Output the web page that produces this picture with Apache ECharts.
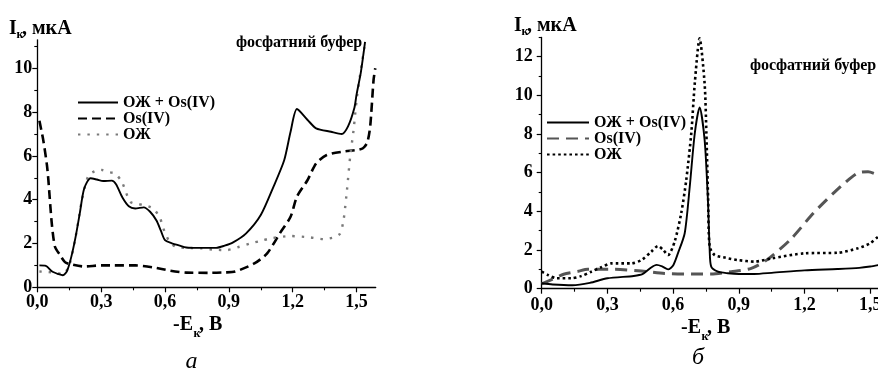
<!DOCTYPE html>
<html>
<head>
<meta charset="utf-8">
<script src="https://cdn.jsdelivr.net/npm/echarts@6/dist/echarts.min.js"></script>
<style>
html,body{margin:0;padding:0;background:#fff;overflow:hidden;width:878px;height:370px;}
#c{width:900px;height:370px;}
</style>
</head>
<body>
<div id="c"></div>
<script>
// ---------- data (panel а) ----------
const seriesNames = ['ОЖ + Os(IV)', 'Os(IV)', 'ОЖ'];
const xTicks = [0, 0.3, 0.6, 0.9, 1.2, 1.5];
const xMinorTicks = [0.15, 0.45, 0.75, 1.05, 1.35];
const yTicksA = [0, 2, 4, 6, 8, 10];
const yMinorA = [1, 3, 5, 7, 9, 11];
const yTicksB = [0, 2, 4, 6, 8, 10, 12];
const yMinorB = [1, 3, 5, 7, 9, 11, 13];

const aSolidE = [0.01,0.04,0.07,0.10,0.12,0.14,0.16,0.18,0.20,0.22,0.25,0.28,0.31,0.35,0.37,0.40,0.43,0.46,0.50,0.53,0.56,0.58,0.60,0.63,0.67,0.70,0.75,0.80,0.84,0.88,0.92,0.98,1.05,1.11,1.16,1.19,1.22,1.27,1.31,1.38,1.43,1.46,1.49,1.50,1.52,1.54];
const aSolidI = [1.0,0.98,0.72,0.6,0.55,0.75,1.4,2.3,3.4,4.5,4.98,4.92,4.85,4.87,4.7,4.1,3.7,3.6,3.65,3.45,3.05,2.6,2.15,2.02,1.9,1.82,1.8,1.8,1.8,1.9,2.05,2.45,3.3,4.6,5.8,7.1,8.14,7.64,7.26,7.1,7.0,7.35,8.2,8.8,9.8,11.2];

const aDashE = [0.01,0.028,0.045,0.052,0.068,0.083,0.105,0.13,0.154,0.22,0.30,0.36,0.46,0.545,0.624,0.70,0.81,0.88,0.93,1.02,1.08,1.14,1.19,1.22,1.27,1.31,1.36,1.44,1.50,1.53,1.55,1.564,1.58,1.588];
const aDashI = [7.6,6.72,5.6,4.9,2.92,1.85,1.5,1.15,1.06,0.95,1.0,1.0,1.0,0.91,0.76,0.67,0.66,0.68,0.72,1.09,1.55,2.47,3.22,4.14,4.9,5.66,6.04,6.2,6.27,6.35,6.6,7.33,9.47,10.0];

const aDotE = [0.01,0.05,0.09,0.12,0.15,0.18,0.21,0.24,0.27,0.30,0.34,0.365,0.397,0.436,0.47,0.50,0.545,0.577,0.592,0.62,0.65,0.70,0.77,0.83,0.89,0.95,1.00,1.05,1.10,1.19,1.28,1.345,1.40,1.423,1.439,1.455,1.47,1.486,1.502,1.525,1.54];
const aDotI = [0.72,0.7,0.65,0.6,1.0,2.3,4.0,5.1,5.3,5.36,5.25,5.2,4.82,3.91,3.8,3.76,3.6,3.15,2.69,2.1,1.85,1.8,1.78,1.72,1.70,1.85,2.0,2.12,2.24,2.34,2.28,2.2,2.3,2.46,3.07,4.44,5.96,7.18,8.7,10.23,11.14];

// ---------- data (panel б) ----------
const bSolidE = [0.0,0.05,0.14,0.22,0.30,0.42,0.46,0.50,0.525,0.55,0.577,0.60,0.622,0.653,0.676,0.699,0.721,0.744,0.759,0.767,0.774,0.805,0.85,0.90,0.97,1.05,1.20,1.35,1.45,1.50,1.55,1.60];
const bSolidI = [0.28,0.22,0.18,0.3,0.54,0.66,0.75,1.1,1.23,1.15,1.0,1.2,1.83,2.87,5.28,8.04,9.38,7.69,4.59,2.0,1.14,0.88,0.8,0.76,0.76,0.82,0.95,1.02,1.08,1.15,1.25,1.35];

const bDashE = [0.0,0.05,0.10,0.166,0.21,0.333,0.44,0.562,0.683,0.774,0.866,0.957,1.027,1.134,1.24,1.347,1.44,1.49,1.537,1.60];
const bDashI = [0.25,0.5,0.75,0.9,1.0,1.0,0.93,0.79,0.76,0.76,0.88,1.05,1.48,2.52,3.9,5.1,5.97,6.05,5.88,5.6];

const bDotE = [0.0,0.03,0.068,0.135,0.18,0.226,0.27,0.318,0.409,0.455,0.50,0.531,0.555,0.577,0.607,0.637,0.66,0.683,0.699,0.721,0.744,0.752,0.76,0.767,0.79,0.84,0.896,0.973,1.05,1.20,1.353,1.444,1.50,1.536,1.60];
const bDotI = [0.88,0.7,0.54,0.54,0.65,0.88,1.1,1.31,1.31,1.48,1.91,2.21,2.0,1.74,2.43,3.9,5.62,8.04,10.63,12.95,10.6,8.04,4.59,2.17,1.74,1.6,1.48,1.40,1.57,1.83,1.86,2.09,2.35,2.69,3.2];

const pairs = (xs, ys) => xs.map((x, i) => [x, ys[i]]);
const B = '\u200b'; // invisible suffix to keep panel б series distinct
const FONT = 'Liberation Serif';

const chart = echarts.init(document.getElementById('c'), null, {renderer: 'canvas'});

function mainX(grid, margin) {
  return {
    type: 'value', gridIndex: grid, position: 'bottom', min: 0, max: grid === 0 ? 1.59 : 1.6,
    axisLine: {show: true, onZero: false, lineStyle: {color: '#000', width: 1.3}},
    axisTick: {show: true, inside: false, length: 5, customValues: xTicks, lineStyle: {color: '#000', width: 1.2}},
    axisLabel: {show: true, customValues: xTicks, margin: margin, color: '#000',
      fontFamily: FONT, fontWeight: 'bold', fontSize: 18,
      formatter: v => v.toFixed(1).replace('.', ',')},
    splitLine: {show: false}
  };
}
function minorX(grid) {
  return {
    type: 'value', gridIndex: grid, position: 'bottom', min: 0, max: grid === 0 ? 1.59 : 1.6,
    axisLine: {show: false, onZero: false},
    axisTick: {show: true, length: 3, customValues: xMinorTicks, lineStyle: {color: '#000', width: 1.1}},
    axisLabel: {show: false}, splitLine: {show: false}
  };
}
function mainY(grid, max, ticks, margin) {
  return {
    type: 'value', gridIndex: grid, position: 'left', min: 0, max: max,
    axisLine: {show: true, onZero: false, lineStyle: {color: '#000', width: 1.3}},
    axisTick: {show: true, length: 5, customValues: ticks, lineStyle: {color: '#000', width: 1.2}},
    axisLabel: {show: true, customValues: ticks, margin: margin, color: '#000',
      fontFamily: FONT, fontWeight: 'bold', fontSize: 18},
    splitLine: {show: false}
  };
}
function minorY(grid, max, ticks) {
  return {
    type: 'value', gridIndex: grid, position: 'left', min: 0, max: max,
    axisLine: {show: false, onZero: false},
    axisTick: {show: true, length: 3, customValues: ticks, lineStyle: {color: '#000', width: 1.1}},
    axisLabel: {show: false}, splitLine: {show: false}
  };
}

function line(name, xi, yi, data, color, width, type) {
  return {
    name: name, type: 'line', xAxisIndex: xi, yAxisIndex: yi, data: data,
    showSymbol: false, symbol: 'none', smooth: 0.25, clip: true,
    lineStyle: {color: color, width: width, type: type, cap: 'butt'},
    itemStyle: {color: color},
    emphasis: {disabled: true}, animation: false, z: 3
  };
}

function txt(x, y, text, size, opts) {
  return {
    type: 'text', x: x, y: y, silent: true,
    style: Object.assign({text: text, fill: '#000', font: 'bold ' + size + 'px "' + FONT + '"',
      textAlign: 'left', textVerticalAlign: 'middle'}, (opts || {}))
  };
}

const legendCommon = {
  orient: 'vertical', padding: 0, itemGap: 0, itemHeight: 19.5,
  selectedMode: false,
  itemStyle: {opacity: 0, borderWidth: 0},
  textStyle: {fontFamily: FONT, fontWeight: 'bold', fontSize: 16, color: '#000'},
  formatter: n => n.replace(B, '')
};

chart.setOption({
  animation: false,
  backgroundColor: '#fff',
  grid: [
    {left: 37.3, top: 39.8, width: 338.4, height: 247.5, containLabel: false},
    {left: 541.7, top: 37.4, width: 350.4, height: 251.3, containLabel: false}
  ],
  xAxis: [mainX(0, 6), mainX(1, 8), minorX(0), minorX(1)],
  yAxis: [mainY(0, 11.3, yTicksA, 5), mainY(1, 13, yTicksB, 9), minorY(0, 11.3, yMinorA), minorY(1, 13, yMinorB)],
  legend: [
    Object.assign({}, legendCommon, {left: 77, top: 94.5, itemWidth: 40,
      data: seriesNames}),
    Object.assign({}, legendCommon, {left: 546, top: 114.5, itemWidth: 42,
      data: seriesNames.map(n => n + B)})
  ],
  series: [
    line(seriesNames[1], 0, 0, pairs(aDashE, aDashI), '#000', 2.6, [9, 5]),
    line(seriesNames[2], 0, 0, pairs(aDotE, aDotI), '#7a7a7a', 2.4, [2.4, 7]),
    line(seriesNames[0], 0, 0, pairs(aSolidE, aSolidI), '#000', 1.9, 'solid'),
    line(seriesNames[1] + B, 1, 1, pairs(bDashE, bDashI), '#555', 3, [12, 7]),
    line(seriesNames[2] + B, 1, 1, pairs(bDotE, bDotI), '#000', 2.6, [2.6, 3]),
    line(seriesNames[0] + B, 1, 1, pairs(bSolidE, bSolidI), '#000', 1.9, 'solid')
  ],
  graphic: [
    // panel а titles
    txt(9, 29, 'I', 20), txt(16.5, 35, 'к', 12), txt(22, 29, ', мкА', 20),
    txt(173, 325, '-E', 20), txt(193.5, 334, 'к', 12), txt(199, 325, ', B', 20),
    txt(236, 43, 'фосфатний буфер', 16),
    {type: 'text', x: 191.5, y: 362, silent: true,
      style: {text: 'а', fill: '#000', font: 'italic 24px "' + FONT + '"', textAlign: 'center', textVerticalAlign: 'middle'}},
    // panel б titles
    txt(514, 26, 'I', 20), txt(521.5, 32, 'к', 12), txt(527, 26, ', мкА', 20),
    txt(681, 327.5, '-E', 20), txt(701.5, 336.5, 'к', 12), txt(707, 327.5, ', B', 20),
    txt(750, 65.7, 'фосфатний буфер', 16),
    {type: 'text', x: 698, y: 358, silent: true,
      style: {text: 'б', fill: '#000', font: 'italic 24px "' + FONT + '"', textAlign: 'center', textVerticalAlign: 'middle'}}
  ]
});
</script>
</body>
</html>
